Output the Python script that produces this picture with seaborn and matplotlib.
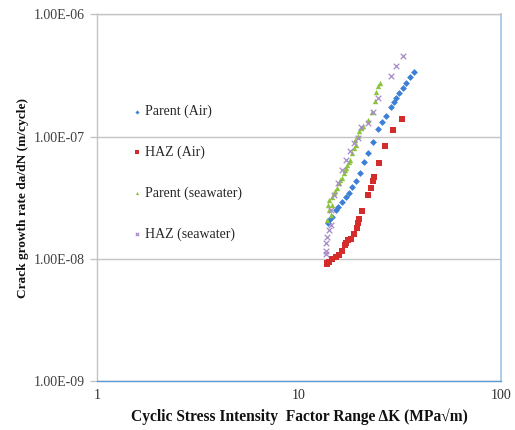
import numpy as np
import pandas as pd
import seaborn as sns
import matplotlib
matplotlib.use("Agg")
import matplotlib.pyplot as plt
from matplotlib.ticker import FuncFormatter, FixedLocator, NullLocator

# ---- data ----
parent_air_dk = [13.9, 14.15, 14.64, 15.32, 15.6, 16.40, 17.16, 17.76, 18.38, 19.23, 20.12,
                 21.06, 22.04, 23.33, 24.70, 25.85, 27.05, 28.63, 29.62, 30.31, 31.36,
                 32.81, 33.95, 35.53, 37.19]
parent_air_rate = [1.95e-8, 2.07e-8, 2.19e-8, 2.50e-8, 2.64e-8, 2.90e-8, 3.19e-8, 3.44e-8, 3.85e-8,
                   4.32e-8, 5.02e-8, 6.18e-8, 7.32e-8, 9.01e-8, 1.15e-7, 1.31e-7, 1.47e-7,
                   1.75e-7, 1.92e-7, 2.07e-7, 2.28e-7, 2.50e-7, 2.75e-7, 3.07e-7, 3.38e-7]

haz_air_dk = [13.7, 13.82, 14.15, 14.64, 15.32, 15.85, 16.40, 16.9, 17.16, 17.55, 18.17,
              18.80, 19.45, 19.67, 19.90, 20.59, 22.04, 22.80, 23.33, 23.60, 24.97,
              26.75, 29.29, 32.44]
haz_air_rate = [9.0e-9, 9.18e-9, 9.36e-9, 9.91e-9, 1.03e-8, 1.07e-8, 1.15e-8, 1.30e-8, 1.34e-8,
                1.42e-8, 1.44e-8, 1.59e-8, 1.78e-8, 1.95e-8, 2.11e-8, 2.45e-8, 3.31e-8,
                3.79e-8, 4.32e-8, 4.66e-8, 6.07e-8, 8.36e-8, 1.13e-7, 1.39e-7]

parent_sw_dk = [13.82, 14.15, 14.47, 14.64, 13.98, 14.15, 14.64, 14.97, 15.1, 15.49, 15.85,
                16.0, 16.40, 16.77, 16.96, 17.16, 17.36, 17.76, 17.96, 18.38, 18.80,
                19.23, 19.01, 19.67, 19.90, 20.35, 20.82, 22.04, 23.07, 23.87, 24.14,
                24.70, 25.27]
parent_sw_rate = [2.07e-8, 2.50e-8, 2.28e-8, 2.75e-8, 2.75e-8, 3.02e-8, 3.19e-8, 3.44e-8, 3.6e-8,
                  3.79e-8, 4.16e-8, 4.4e-8, 4.57e-8, 5.02e-8, 5.3e-8, 5.52e-8, 5.83e-8,
                  6.18e-8, 6.41e-8, 7.32e-8, 8.05e-8, 8.51e-8, 9.36e-8, 1.01e-7, 1.11e-7,
                  1.17e-7, 1.22e-7, 1.37e-7, 1.59e-7, 1.96e-7, 2.32e-7, 2.60e-7, 2.75e-7]

haz_sw_dk = [13.6, 13.67, 13.67, 13.82, 14.15, 14.47, 14.47, 14.97, 15.6, 16.40, 17.16,
             17.96, 18.80, 19.67, 20.35, 22.04, 23.33, 24.70, 28.63, 30.31, 32.81]
haz_sw_rate = [1.10e-8, 1.17e-8, 1.34e-8, 1.50e-8, 1.71e-8, 1.88e-8, 2.5e-8, 3.3e-8, 4.2e-8,
               5.3e-8, 6.4e-8, 7.7e-8, 8.85e-8, 9.72e-8, 1.19e-7, 1.29e-7, 1.59e-7,
               2.07e-7, 3.13e-7, 3.79e-7, 4.57e-7]

series_names = ["Parent (Air)", "HAZ (Air)", "Parent (seawater)", "HAZ (seawater)"]
x_ticks = [1, 10, 100]
y_ticks = [1e-9, 1e-8, 1e-7, 1e-6]
x_label = "Cyclic Stress Intensity  Factor Range \u0394K (MPa\u221am)"
y_label = "Crack growth rate da/dN (m/cycle)"

frames = []
for name, xs, ys in zip(series_names,
                        [parent_air_dk, haz_air_dk, parent_sw_dk, haz_sw_dk],
                        [parent_air_rate, haz_air_rate, parent_sw_rate, haz_sw_rate]):
    frames.append(pd.DataFrame({"dK": xs, "rate": ys, "series": name}))
df = pd.concat(frames, ignore_index=True)

sns.set_style("white")
plt.rcParams["font.family"] = ["Liberation Serif", "DejaVu Serif"]

colors = {"Parent (Air)": "#3d7fd6", "HAZ (Air)": "#d42b2b",
          "Parent (seawater)": "#8cc43f", "HAZ (seawater)": "#a58ac8"}
markers = {"Parent (Air)": "D", "HAZ (Air)": "s",
           "Parent (seawater)": "^", "HAZ (seawater)": "x"}
sizes = {"Parent (Air)": 12, "HAZ (Air)": 15, "Parent (seawater)": 15, "HAZ (seawater)": 16}

fig = plt.figure(figsize=(5.15, 4.30), dpi=100)
ax = fig.add_axes([97 / 515, 1 - 381 / 430, (501 - 97) / 515, (381 - 14.5) / 430])

for name in series_names:
    sub = df[df["series"] == name]
    if markers[name] == "x":
        sns.scatterplot(data=sub, x="dK", y="rate", ax=ax, marker="x", color=colors[name],
                        s=sizes[name], linewidth=0.9, label=name, zorder=3)
    else:
        sns.scatterplot(data=sub, x="dK", y="rate", ax=ax, marker=markers[name],
                        color=colors[name], s=sizes[name], linewidth=0, label=name, zorder=3)

ax.set_xscale("log")
ax.set_yscale("log")
ax.set_xlim(1, 100)
ax.set_ylim(1e-9, 1e-6)

ax.yaxis.set_major_locator(FixedLocator(y_ticks))
ax.yaxis.set_minor_locator(NullLocator())
ax.xaxis.set_major_locator(FixedLocator(x_ticks))
ax.xaxis.set_minor_locator(NullLocator())
ax.yaxis.set_major_formatter(FuncFormatter(lambda v, p: f"{v:.2E}"))
ax.xaxis.set_major_formatter(FuncFormatter(lambda v, p: f"{v:g}"))

ax.grid(axis="y", color="#c4c4c4", linewidth=1.0)
ax.grid(axis="x", visible=False)
ax.set_axisbelow(True)

for side in ["left", "top"]:
    ax.spines[side].set_color("#c4c4c4")
    ax.spines[side].set_linewidth(1.0)
ax.spines["bottom"].set_color("#5b9bd5")
ax.spines["bottom"].set_linewidth(1.0)
ax.spines["right"].set_color("#9dc3e6")
ax.spines["right"].set_linewidth(1.2)

ax.tick_params(axis="y", which="major", left=True, length=5, width=1, color="#c4c4c4",
               labelsize=10, labelcolor="#404040", pad=4)
ax.tick_params(axis="x", which="major", bottom=False, length=0, labelsize=10,
               labelcolor="#303030", pad=6)

ax.set_xlabel(x_label, fontsize=11.2, fontweight="bold", color="#111111", labelpad=4)
ax.set_ylabel(y_label, fontsize=9.6, fontweight="bold", color="#111111", labelpad=3)

leg = ax.legend(loc="upper left", bbox_to_anchor=(0.068, 0.78), frameon=False,
                fontsize=10, labelspacing=1.97, handlelength=0.4, handletextpad=0.4,
                markerscale=0.6, borderpad=0.2)

fig.savefig("out.png", dpi=100)
